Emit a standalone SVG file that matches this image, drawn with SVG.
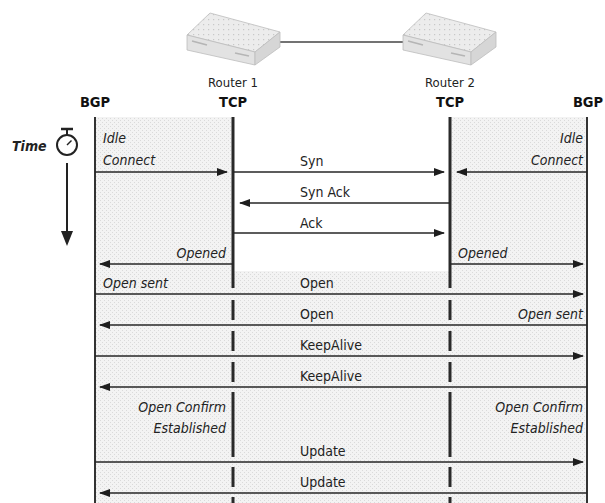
<svg xmlns="http://www.w3.org/2000/svg" width="605" height="503" viewBox="0 0 605 503">
  <style>
    .lbl { font-family: "DejaVu Sans Condensed", "Liberation Sans", Arial, sans-serif; font-size: 14px; fill: #222; }
    .st { font-style: italic; }
    .hd { font-family: "DejaVu Sans Condensed", "Liberation Sans", Arial, sans-serif; font-size: 14.5px; font-weight: bold; fill: #111; text-anchor: middle; }
    .rt { font-family: "DejaVu Sans Condensed", "Liberation Sans", Arial, sans-serif; font-size: 13px; fill: #222; text-anchor: middle; }
    .end { text-anchor: end; }
    .msg { stroke: #262626; stroke-width: 1.5; fill: none; marker-end: url(#ah); }
    .bgp { stroke: #333; stroke-width: 2; }
    .tcp { stroke: #2a2a2a; stroke-width: 3; }
  </style>
  <defs>
    <pattern id="stip" width="4" height="4" patternUnits="userSpaceOnUse">
      <rect width="4" height="4" fill="#f3f3f3"/>
      <rect x="0" y="0" width="1" height="1" fill="#dadada"/>
      <rect x="2" y="2" width="1" height="1" fill="#dadada"/>
    </pattern>
    <pattern id="dots" width="5" height="5" patternUnits="userSpaceOnUse">
      <rect width="5" height="5" fill="#ececec"/>
      <rect x="1" y="1" width="1.2" height="1.2" fill="#c8c8c8"/>
    </pattern>
    <marker id="ah" markerUnits="userSpaceOnUse" markerWidth="11" markerHeight="8" refX="10" refY="4" orient="auto">
      <path d="M0,0 L11,4 L0,8 z" fill="#1e1e1e"/>
    </marker>
    <g id="router">
      <!-- flat box: top, front and side faces -->
      <polygon points="0,22 23,0 93,19 68,39" fill="url(#dots)" stroke="#bdbdbd" stroke-width="0.8"/>
      <polygon points="0,22 68,39 68,52 0,37" fill="#e2e2e2" stroke="#bdbdbd" stroke-width="0.8"/>
      <polygon points="68,39 93,19 93,34 68,52" fill="#d6d6d6" stroke="#bdbdbd" stroke-width="0.8"/>
      <line x1="5" y1="28" x2="20" y2="32" stroke="#b5b5b5" stroke-width="1.5"/>
      <line x1="48" y1="40" x2="62" y2="43" stroke="#b5b5b5" stroke-width="1.5"/>
    </g>
  </defs>

  <!-- shaded state areas -->
  <g id="shading">
    <rect x="95" y="117" width="138" height="386" fill="url(#stip)"/>
    <rect x="450" y="117" width="137" height="386" fill="url(#stip)"/>
    <rect x="233" y="271" width="217" height="232" fill="url(#stip)"/>
  </g>

  <!-- routers and link -->
  <g id="link">
    <line x1="280" y1="42" x2="403" y2="42" stroke="#444" stroke-width="1.5"/>
  </g>
  <g id="router1">
    <use href="#router" x="187" y="13"/>
    <text class="rt" x="233" y="87">Router 1</text>
  </g>
  <g id="router2">
    <use href="#router" x="403" y="13"/>
    <text class="rt" x="450" y="87">Router 2</text>
  </g>

  <!-- lifelines -->
  <g id="bgp-left">
    <text class="hd" x="95" y="107">BGP</text>
    <line class="bgp" x1="95" y1="117" x2="95" y2="503"/>
  </g>
  <g id="tcp-1">
    <text class="hd" x="233" y="107">TCP</text>
    <line class="tcp" x1="233" y1="117" x2="233" y2="288"/>
    <line class="tcp" x1="233" y1="300" x2="233" y2="320"/>
    <line class="tcp" x1="233" y1="331" x2="233" y2="351"/>
    <line class="tcp" x1="233" y1="362" x2="233" y2="382"/>
    <line class="tcp" x1="233" y1="392" x2="233" y2="457"/>
    <line class="tcp" x1="233" y1="467" x2="233" y2="487"/>
    <line class="tcp" x1="233" y1="497" x2="233" y2="503"/>
  </g>
  <g id="tcp-2">
    <text class="hd" x="450" y="107">TCP</text>
    <line class="tcp" x1="450" y1="117" x2="450" y2="288"/>
    <line class="tcp" x1="450" y1="300" x2="450" y2="320"/>
    <line class="tcp" x1="450" y1="331" x2="450" y2="351"/>
    <line class="tcp" x1="450" y1="362" x2="450" y2="382"/>
    <line class="tcp" x1="450" y1="392" x2="450" y2="457"/>
    <line class="tcp" x1="450" y1="467" x2="450" y2="487"/>
    <line class="tcp" x1="450" y1="497" x2="450" y2="503"/>
  </g>
  <g id="bgp-right">
    <text class="hd" x="588" y="107">BGP</text>
    <line class="bgp" x1="587" y1="117" x2="587" y2="503"/>
  </g>

  <!-- time axis -->
  <g id="time">
    <text class="lbl" x="12" y="151" style="font-style:italic;font-weight:bold;font-size:14px">Time</text>
    <line x1="61" y1="129" x2="73" y2="129" stroke="#222" stroke-width="2.5"/>
    <line x1="67" y1="130" x2="67" y2="135" stroke="#222" stroke-width="2"/>
    <circle cx="67" cy="145" r="10" fill="#fff" stroke="#222" stroke-width="2"/>
    <line x1="67" y1="145" x2="71.5" y2="140.5" stroke="#222" stroke-width="1.5"/>
    <line x1="67" y1="163" x2="67" y2="232" stroke="#222" stroke-width="2"/>
    <polygon points="61,231 73,231 67,246" fill="#222"/>
  </g>

  <!-- state labels -->
  <g id="states">
    <text class="lbl st" x="103" y="143">Idle</text>
    <text class="lbl st" x="103" y="165">Connect</text>
    <text class="lbl st end" x="583" y="143">Idle</text>
    <text class="lbl st end" x="583" y="165">Connect</text>
    <text class="lbl st end" x="226" y="258">Opened</text>
    <text class="lbl st" x="458" y="258">Opened</text>
    <text class="lbl st" x="103" y="288">Open sent</text>
    <text class="lbl st end" x="583" y="319">Open sent</text>
    <text class="lbl st end" x="226" y="412">Open Confirm</text>
    <text class="lbl st end" x="226" y="433">Established</text>
    <text class="lbl st end" x="583" y="412">Open Confirm</text>
    <text class="lbl st end" x="583" y="433">Established</text>
  </g>

  <!-- messages -->
  <g id="connectors">
    <line class="msg" x1="95" y1="172" x2="227" y2="172"/>
    <line class="msg" x1="587" y1="172" x2="457" y2="172"/>
    <line class="msg" x1="233" y1="172" x2="444" y2="172"/>
    <line class="msg" x1="450" y1="203" x2="240" y2="203"/>
    <line class="msg" x1="233" y1="233" x2="444" y2="233"/>
    <line class="msg" x1="233" y1="264" x2="100" y2="264"/>
    <line class="msg" x1="450" y1="264" x2="583" y2="264"/>
    <line class="msg" x1="95" y1="294" x2="583" y2="294"/>
    <line class="msg" x1="587" y1="325" x2="100" y2="325"/>
    <line class="msg" x1="95" y1="356" x2="583" y2="356"/>
    <line class="msg" x1="587" y1="387" x2="100" y2="387"/>
    <line class="msg" x1="95" y1="462" x2="583" y2="462"/>
    <line class="msg" x1="587" y1="493" x2="100" y2="493"/>
  </g>
  <g id="message-labels">
    <text class="lbl" x="300" y="166">Syn</text>
    <text class="lbl" x="300" y="197">Syn Ack</text>
    <text class="lbl" x="300" y="228">Ack</text>
    <text class="lbl" x="300" y="288">Open</text>
    <text class="lbl" x="300" y="319">Open</text>
    <text class="lbl" x="300" y="350">KeepAlive</text>
    <text class="lbl" x="300" y="381">KeepAlive</text>
    <text class="lbl" x="300" y="456">Update</text>
    <text class="lbl" x="300" y="487">Update</text>
  </g>
</svg>
